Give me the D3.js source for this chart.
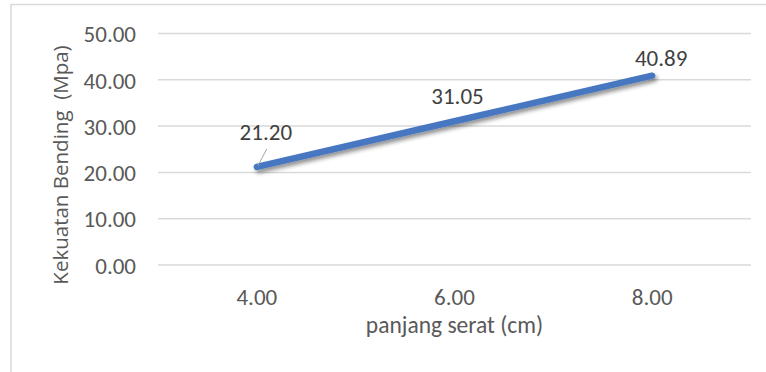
<!DOCTYPE html>
<html>
<head>
<meta charset="utf-8">
<script src="https://cdn.jsdelivr.net/npm/d3@7"></script>
<style>
  html, body { margin: 0; padding: 0; background: #fff; }
  svg { display: block; }
  text { font-family: Carlito, Calibri, Lato, "Liberation Sans", sans-serif; }
  .ytitle { font-family: "Segoe UI", "Open Sans", sans-serif; white-space: pre; }
</style>
</head>
<body>
<svg id="chart" width="766" height="372"></svg>
<script>
// Flexural strength against fibre length
const categories = ["4.00", "6.00", "8.00"];
const strength = [21.20, 31.05, 40.89];
const yTicks = [0, 10, 20, 30, 40, 50];
const xTitle = "panjang serat (cm)";
const yTitle = "Kekuatan Bending  (Mpa)";

// label placement relative to each point (dx, dy)
const labelOffsets = [[9, -35], [3, -26], [9, -18]];

const W = 766, H = 372;
const plot = { left: 158, right: 751, top: 33.5, bottom: 265 };

const svg = d3.select("#chart");

// chart frame
svg.append("rect")
  .attr("x", 11).attr("y", 4.5)
  .attr("width", W + 20).attr("height", H + 20)
  .attr("fill", "#fff")
  .attr("stroke", "#d9d9d9").attr("stroke-width", 1.5);

const x = d3.scaleBand().domain(categories).range([plot.left, plot.right]).padding(0);
const y = d3.scaleLinear().domain([0, 50]).range([plot.bottom, plot.top]);

// gridlines
svg.append("g")
  .selectAll("line").data(yTicks).join("line")
  .attr("x1", plot.left).attr("x2", plot.right)
  .attr("y1", d => y(d)).attr("y2", d => y(d))
  .attr("stroke", "#d9d9d9").attr("stroke-width", 1.5);

// y axis labels
const yAxis = d3.axisLeft(y).tickValues(yTicks).tickFormat(d3.format(".2f")).tickSize(0).tickPadding(0);
const gy = svg.append("g").attr("transform", `translate(136,0)`).call(yAxis);
gy.select(".domain").remove();
gy.selectAll("text").attr("fill", "#595959").attr("font-size", 23).attr("dy", "0.36em");

// x axis labels
const xAxis = d3.axisBottom(x).tickSize(0).tickPadding(0);
const gx = svg.append("g").attr("transform", `translate(0,${plot.bottom})`).call(xAxis);
gx.select(".domain").remove();
gx.selectAll("text").attr("fill", "#595959").attr("font-size", 23).attr("dy", 40);

// axis titles
svg.append("text")
  .attr("x", (plot.left + plot.right) / 2).attr("y", 333)
  .attr("text-anchor", "middle").attr("fill", "#595959").attr("font-size", 23.5)
  .text(xTitle);

svg.append("text")
  .attr("class", "ytitle")
  .attr("transform", `translate(68,165) rotate(-90)`)
  .attr("text-anchor", "middle").attr("fill", "#595959").attr("font-size", 20.5)
  .text(yTitle);

// line with soft shadow
const defs = svg.append("defs");
const f = defs.append("filter").attr("id", "shadow")
  .attr("x", "-10%").attr("y", "-50%").attr("width", "120%").attr("height", "200%");
f.append("feGaussianBlur").attr("in", "SourceAlpha").attr("stdDeviation", 2).attr("result", "b");
f.append("feOffset").attr("in", "b").attr("dx", 2).attr("dy", 3).attr("result", "o");
f.append("feComponentTransfer").attr("in", "o").attr("result", "s")
  .append("feFuncA").attr("type", "linear").attr("slope", 0.45);
const m = f.append("feMerge");
m.append("feMergeNode").attr("in", "s");
m.append("feMergeNode").attr("in", "SourceGraphic");

const pts = categories.map((c, i) => [x(c) + x.bandwidth() / 2, y(strength[i])]);

svg.append("path")
  .datum(pts)
  .attr("d", d3.line())
  .attr("fill", "none")
  .attr("stroke", "#4677c0")
  .attr("stroke-width", 6.5)
  .attr("stroke-linecap", "round")
  .attr("stroke-linejoin", "round")
  .attr("filter", "url(#shadow)");

// leader line for the first label
svg.append("line")
  .attr("x1", pts[0][0] + 10).attr("y1", pts[0][1] - 18)
  .attr("x2", pts[0][0] + 1).attr("y2", pts[0][1] - 1)
  .attr("stroke", "#a6a6a6").attr("stroke-width", 1);

// value labels
svg.append("g")
  .selectAll("text").data(strength).join("text")
  .attr("x", (d, i) => pts[i][0] + labelOffsets[i][0])
  .attr("y", (d, i) => pts[i][1] + labelOffsets[i][1])
  .attr("dy", "0.36em")
  .attr("text-anchor", "middle")
  .attr("fill", "#404040").attr("font-size", 23)
  .text(d => d3.format(".2f")(d));
</script>
</body>
</html>
